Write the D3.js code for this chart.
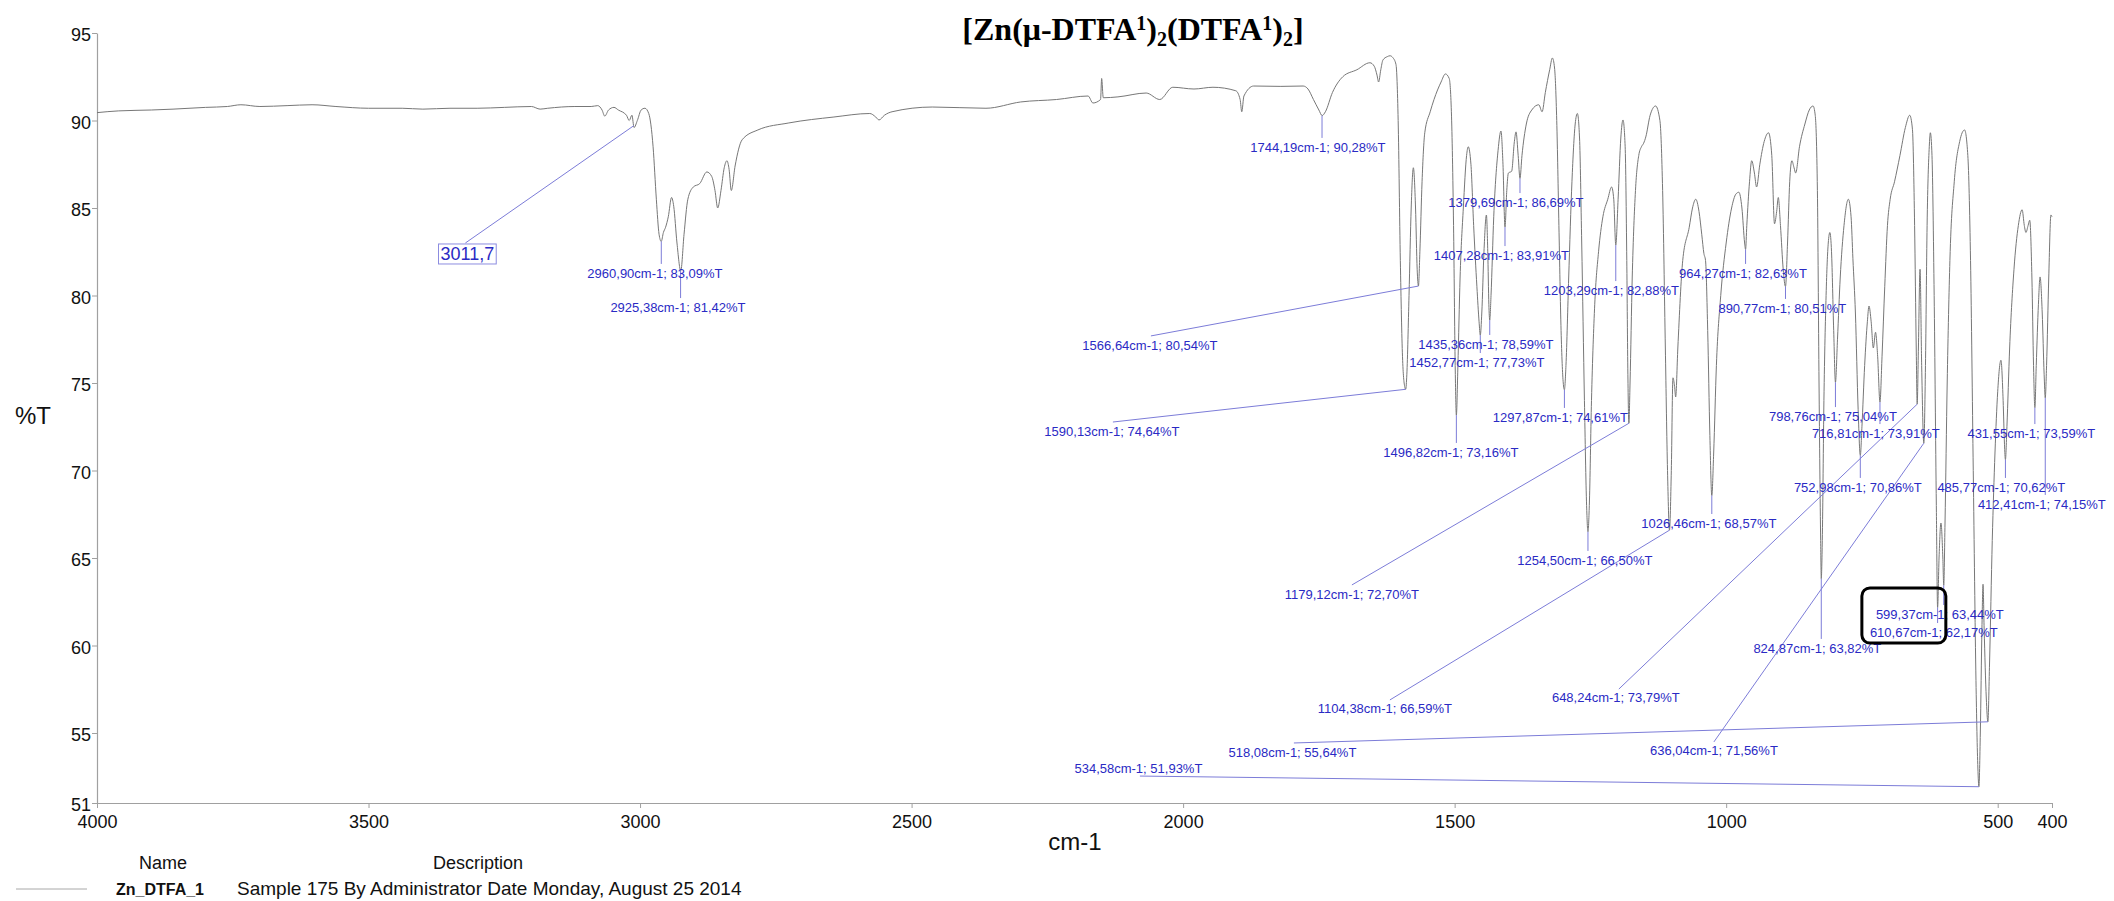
<!DOCTYPE html>
<html><head><meta charset="utf-8">
<script src="https://cdn.jsdelivr.net/npm/d3@7"></script>
<style>body{margin:0;background:#fff;} svg{display:block;}</style>
</head><body>
<svg id="chart" width="2114" height="901"></svg>
<script>
// ---------- data ----------
const wavenumbers = [4000,3960,3900,3860,3800,3760,3735,3700,3650,3604,3560,3500,3438,3400,3350,3300,3250,3200,3184,3170,3120,3090,3078,3070,3065,3058,3048,3040,3025,3020,3015,3011,3005,2998,2991,2984,2976,2970,2965,2961,2957,2953,2948,2942,2938,2932,2925,2919,2912,2902,2890,2877,2868,2862,2857,2851,2845,2840,2836,2832,2825,2812,2783,2726,2643,2577,2566,2560,2550,2536,2462,2363,2299,2233,2175,2166,2152,2150,2147,2120,2068,2043,2019,1980,1945,1903,1895,1892,1888,1870,1820,1779,1770,1760,1750,1744,1738,1725,1706,1680,1656,1648,1643,1640,1636,1632,1624,1619,1614,1608,1604,1600,1596,1592,1590.13,1588,1584,1580,1576,1572,1569,1566.64,1564,1560,1555,1545,1538,1525,1517,1510,1506,1502,1499,1496.82,1494,1490,1484,1478,1475,1470,1465,1459,1455,1452.77,1450,1446,1441.5,1439,1437,1435.36,1433,1428,1420,1414.7,1411,1407.28,1404,1401,1395,1390,1387,1383,1379.69,1376,1368,1358,1345,1339,1333,1325,1320,1316,1312,1308,1304,1300,1297.87,1295,1290,1284,1278,1274,1270,1266,1261,1257,1254.5,1252,1248,1242,1235,1227,1218,1211,1207,1203.29,1199,1194,1190,1186,1183,1181,1179.12,1177,1173,1167,1161,1156,1152,1148,1140,1130,1122,1117,1112,1108,1104.38,1101,1098,1095,1093,1089,1080,1068,1062,1056,1050,1045,1041,1038,1034,1030,1026.46,1023,1018,1010,1000,990,982,976.6,971,966,964.27,962,957,953,948,944,938,930,922,916,911,907,904,900,895,890.77,887,883,879,875,872,865,855,847,840,836,832,829,826,824.87,823,820,816,812,809,806,802,798.76,795,790,783,775,770,766.6,762,757,752.98,750,745,740,737,733,729,725,721,716.81,713,708,703,698,690,680,670,662,657,653,650,648.24,646,643,640,636.04,633,630,626,624,621,617,613,610.67,608,604.5,601,599.37,597,593,588,580,570,561,555,550,545,540,536.5,534.58,532,529,527,525,521,518.08,515,510,505,500,494,490,487.5,485.77,483,478,470,462,455,451,448,444,441,437,434,431.55,429,425,422,418,414.5,412.41,410,406,402,400];
const transmittance = [90.45,90.55,90.6,90.65,90.75,90.8,90.9,90.8,90.85,90.9,90.8,90.7,90.7,90.65,90.7,90.7,90.75,90.8,90.65,90.7,90.8,90.8,90.85,90.6,90.25,90.6,90.75,90.6,90.3,90.0,90.3,89.6,90.0,90.6,90.7,90.4,88.5,85.5,83.5,83.09,83.6,83.9,84.5,85.6,85.1,83.0,81.42,83.5,85.5,86.2,86.4,87.06,86.8,86.0,85.0,86.0,87.3,87.7,87.2,86.0,87.4,88.9,89.46,89.86,90.2,90.4,90.2,90.03,90.3,90.5,90.77,90.7,91.06,91.2,91.4,91.0,91.2,92.4,91.3,91.35,91.57,91.2,91.9,91.8,91.9,91.7,91.2,90.5,91.4,91.97,91.95,91.97,91.8,91.2,90.6,90.28,90.5,91.6,92.5,92.9,93.3,93.1,92.6,92.2,92.9,93.46,93.65,93.7,93.6,93.2,90.0,82.0,76.5,74.8,74.64,75.5,80.0,85.0,87.3,85.0,81.5,80.54,82.5,86.5,89.3,90.5,91.2,92.2,92.66,92.4,90.5,84.0,76.0,73.16,76.0,81.0,85.0,88.0,88.5,87.5,84.0,80.5,78.5,77.73,79.0,82.5,84.6,82.5,79.5,78.59,80.0,84.5,88.3,89.4,87.5,83.91,86.0,87.0,87.1,88.8,89.35,88.0,86.69,88.0,89.8,90.6,90.9,90.5,91.6,92.9,93.57,93.0,90.0,84.0,78.0,75.0,74.61,76.0,81.0,86.5,89.8,90.4,89.0,83.0,74.0,68.0,66.5,68.0,74.0,79.5,82.5,84.5,85.5,86.2,85.5,82.88,85.5,89.0,90.03,88.5,82.0,75.5,72.7,75.0,81.0,86.0,88.0,88.5,88.7,89.06,90.3,90.83,90.0,86.0,77.0,70.0,66.59,70.0,75.3,74.8,74.2,77.0,82.0,83.9,85.0,85.5,84.8,83.5,82.4,82.0,78.0,72.0,68.57,71.0,76.0,80.0,83.0,85.0,85.8,85.9,85.0,83.0,82.63,84.0,86.5,87.7,87.0,86.2,87.5,88.8,89.3,88.0,84.1,84.8,85.6,84.0,81.5,80.51,83.0,86.5,87.7,87.3,87.0,88.5,89.8,90.6,90.83,90.3,86.0,75.0,66.0,63.82,66.0,74.0,80.0,83.0,83.6,82.5,78.0,75.04,77.5,81.0,84.0,85.5,84.5,82.1,79.0,73.5,70.86,72.5,76.0,78.5,79.4,78.5,77.0,77.9,76.5,73.91,76.5,80.5,84.0,85.5,86.5,88.0,89.6,90.3,89.5,84.0,77.0,73.79,77.0,81.5,76.0,71.56,76.0,84.0,88.5,89.3,88.0,80.0,68.0,62.17,65.0,67.0,65.0,63.44,67.0,75.0,82.0,86.5,88.8,89.46,88.0,82.0,70.0,58.0,53.0,51.93,55.0,61.0,63.5,61.0,57.0,55.64,59.0,66.0,71.0,74.5,76.3,74.0,71.5,70.62,72.5,77.0,81.5,84.0,84.9,84.0,83.6,84.0,84.3,81.0,76.0,73.59,76.0,79.5,81.06,79.0,75.5,74.15,76.0,81.0,84.6,84.5];

const xTickValues = [4000,3500,3000,2500,2000,1500,1000,500,400];
const yTickValues = [95,90,85,80,75,70,65,60,55,51];

// annotated peaks (wavenumber, %T)
const peakWn = [2960.90,2925.38,1744.19,1566.64,1590.13,1379.69,1407.28,1203.29,964.27,890.77,1435.36,1452.77,1496.82,1297.87,1254.50,1179.12,1104.38,1026.46,798.76,716.81,752.98,648.24,636.04,610.67,599.37,824.87,518.08,534.58,485.77,431.55,412.41];
const peakT  = [83.09,81.42,90.28,80.54,74.64,86.69,83.91,82.88,82.63,80.51,78.59,77.73,73.16,74.61,66.50,72.70,66.59,68.57,75.04,73.91,70.86,73.79,71.56,62.17,63.44,63.82,55.64,51.93,70.62,73.59,74.15];

// label layout (label centre in data units; optional leader end for slanted leaders)
const labelWn = [2972.6,2930.2,1751.8,2061.1,2131.1,1387.2,1414.0,1211.4,969.2,896.5,1442.5,1459.0,1507.0,1305.3,1260.2,1689.2,1628.4,1031.9,803.5,724.4,757.5,1203.1,1022.6,617.6,606.5,832.1,1798.7,2082.3,493.3,438.0,418.7];
const labelT  = [81.29,79.34,88.49,77.17,72.26,85.34,82.31,80.31,81.29,79.29,77.23,76.2,71.06,73.06,64.89,62.94,56.43,67.0,73.11,72.14,69.06,57.06,54.03,60.77,61.8,59.86,53.91,53.0,69.06,72.14,68.09];
const leaderEndWn = [null,null,null,2059.3,2129.3,null,null,null,null,null,null,null,null,null,null,1689.2,1619.2,null,null,null,null,1197.6,1022.6,null,null,null,1796.0,2079.6,null,null,null];
const leaderEndT  = [null,null,null,77.69,72.77,null,null,null,null,null,null,null,null,null,null,63.46,56.89,null,null,null,null,57.51,54.49,null,null,null,54.43,52.54,null,null,null];

const markerWn = 3011.7, markerT = 89.7, markerLabel = "3011,7";
const markerBoxWn = 3318.0, markerBoxT = 82.4, markerLeaderT = 83.0;
const highlightBox = {wn0: 750.1, wn1: 595.5, t0: 63.29, t1: 60.14};

const titleParts = [["[Zn(μ-DTFA",""],["1","sup"],[")",""],["2","sub"],["(DTFA",""],["1","sup"],[")",""],["2","sub"],["]",""]];
const legendName = "Zn_DTFA_1";
const legendDesc = "Sample 175 By Administrator Date Monday, August 25 2014";

// ---------- drawing ----------
const svg = d3.select("#chart");
const W = 2114, H = 901;
const x = d3.scaleLinear().domain([4000, 400]).range([97, 2052]);
const y = d3.scaleLinear().domain([51, 95]).range([803, 33]);
const sans = "'Liberation Sans', Arial, sans-serif";
const fmt = v => v.toFixed(2).replace(".", ",");

svg.append("rect").attr("width", W).attr("height", H).attr("fill", "#fff");

// axes
const gx = svg.append("g").attr("transform", "translate(0,803)")
  .call(d3.axisBottom(x).tickValues(xTickValues).tickFormat(d3.format("d")).tickSize(5).tickSizeOuter(0).tickPadding(7));
const gy = svg.append("g").attr("transform", "translate(97,0)")
  .call(d3.axisLeft(y).tickValues(yTickValues).tickFormat(d3.format("d")).tickSize(5).tickSizeOuter(0).tickPadding(1));
[gx, gy].forEach(g => {
  g.select(".domain").attr("stroke", "#a0a0a0").attr("stroke-width", 1.2);
  g.selectAll(".tick line").attr("stroke", "#a0a0a0");
  g.selectAll(".tick text").attr("fill", "#111").attr("font-family", sans).attr("font-size", 18);
});
gy.selectAll(".tick text").attr("dy", "0.42em");

// axis titles
svg.append("text").attr("x", 1075).attr("y", 850).attr("text-anchor", "middle")
  .attr("font-family", sans).attr("font-size", 24).attr("fill", "#111").text("cm-1");
svg.append("text").attr("x", 33).attr("y", 424).attr("text-anchor", "middle")
  .attr("font-family", sans).attr("font-size", 24).attr("fill", "#111").text("%T");

// title
const title = svg.append("text").attr("x", 1133).attr("y", 40).attr("text-anchor", "middle")
  .attr("font-family", "'Liberation Serif', 'Times New Roman', serif").attr("font-weight", "bold")
  .attr("font-size", 32).attr("fill", "#000");
let shift = 0;
titleParts.forEach(([t, kind]) => {
  const target = kind === "sup" ? -10 : kind === "sub" ? 6 : 0;
  title.append("tspan").attr("dy", target - shift).attr("font-size", kind ? 20 : 32).text(t);
  shift = target;
});

// spectrum
const pts = wavenumbers.map((w, i) => [w, transmittance[i]]);
svg.append("path").datum(pts)
  .attr("fill", "none").attr("stroke", "#777").attr("stroke-width", 1)
  .attr("d", d3.line().x(d => x(d[0])).y(d => y(d[1])).curve(d3.curveMonotoneX));

// peak annotations
const ann = svg.append("g");
const labelColor = "#2a2ac4", leaderColor = "#7c7cd8";
peakWn.forEach((w, i) => {
  const lx = x(labelWn[i]), ly = y(labelT[i]);
  const ex = leaderEndWn[i] == null ? x(w) : x(leaderEndWn[i]);
  const ey = leaderEndT[i] == null ? ly - 9 : y(leaderEndT[i]);
  ann.append("line").attr("x1", x(w)).attr("y1", y(peakT[i])).attr("x2", ex).attr("y2", ey)
    .attr("stroke", leaderColor).attr("stroke-width", 1);
});
peakWn.forEach((w, i) => {
  ann.append("text").attr("x", x(labelWn[i])).attr("y", y(labelT[i])).attr("dy", "0.36em")
    .attr("text-anchor", "middle").attr("font-family", sans).attr("font-size", 13)
    .attr("fill", labelColor).text(`${fmt(w)}cm-1; ${fmt(peakT[i])}%T`);
});

// boxed marker 3011,7
ann.append("line").attr("x1", x(markerWn)).attr("y1", y(markerT))
  .attr("x2", x(markerBoxWn) - 2).attr("y2", y(markerLeaderT)).attr("stroke", leaderColor);
const mt = ann.append("text").attr("x", x(markerBoxWn)).attr("y", y(markerBoxT)).attr("dy", "0.36em")
  .attr("text-anchor", "middle").attr("font-family", sans).attr("font-size", 18)
  .attr("fill", labelColor).text(markerLabel);
const bb = mt.node().getBBox();
ann.append("rect").attr("x", bb.x - 2).attr("y", bb.y).attr("width", bb.width + 4).attr("height", bb.height)
  .attr("fill", "none").attr("stroke", "#8c8ce0").attr("stroke-width", 1);

// highlight box
svg.append("rect")
  .attr("x", x(highlightBox.wn0)).attr("y", y(highlightBox.t0))
  .attr("width", x(highlightBox.wn1) - x(highlightBox.wn0))
  .attr("height", y(highlightBox.t1) - y(highlightBox.t0))
  .attr("rx", 8).attr("ry", 8).attr("fill", "none").attr("stroke", "#000").attr("stroke-width", 3);

// legend
const lg = svg.append("g").attr("font-family", sans).attr("fill", "#111");
lg.append("text").attr("x", 163).attr("y", 869).attr("text-anchor", "middle").attr("font-size", 18).text("Name");
lg.append("text").attr("x", 478).attr("y", 869).attr("text-anchor", "middle").attr("font-size", 18).text("Description");
lg.append("line").attr("x1", 16).attr("x2", 87).attr("y1", 889).attr("y2", 889).attr("stroke", "#a8a8a8").attr("stroke-width", 1);
lg.append("text").attr("x", 116).attr("y", 895).attr("font-size", 16).attr("font-weight", "bold").text(legendName);
lg.append("text").attr("x", 237).attr("y", 895).attr("font-size", 19).text(legendDesc);
</script>
</body></html>
